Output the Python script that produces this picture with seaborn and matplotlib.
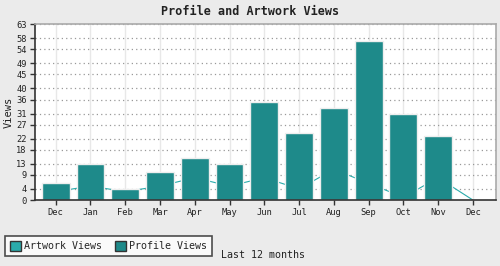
import matplotlib
matplotlib.use("Agg")
import matplotlib.pyplot as plt
from matplotlib.patches import Patch
import seaborn as sns
import pandas as pd

months = ["Dec", "Jan", "Feb", "Mar", "Apr", "May", "Jun", "Jul", "Aug", "Sep", "Oct", "Nov", "Dec"]
profile_views = [6, 13, 4, 10, 15, 13, 35, 24, 33, 57, 31, 23, 0]
artwork_views = [3, 5, 3, 5, 8, 5, 8, 4, 11, 6, 1, 8, 0]
y_ticks = [0, 4, 9, 13, 18, 22, 27, 31, 36, 40, 45, 49, 54, 58, 63]

sns.set_theme(style="white")
plt.rcParams["font.family"] = ["DejaVu Sans Mono"]

profile_color = "#1e8a8a"
artwork_color = "#2aabab"

df = pd.DataFrame({"idx": list(range(len(months))), "profile": profile_views, "artwork": artwork_views})

fig = plt.figure(figsize=(5.0, 2.66), dpi=100, facecolor="#ebebeb")
ax = fig.add_axes([0.069, 0.248, 0.922, 0.661])
ax.set_facecolor("white")

for i in range(len(months)):
    ax.axvline(i, color="#e8e8e8", lw=1, zorder=0)
for t in y_ticks[1:]:
    ax.axhline(t, color="#999999", lw=0.9, ls=(0, (1, 2.5)), zorder=0.5)

sns.lineplot(data=df, x="idx", y="artwork", ax=ax, color=artwork_color, lw=0.8, zorder=1, legend=False)
sns.barplot(data=df, x="idx", y="profile", ax=ax, color=profile_color, width=0.8,
            edgecolor="#eeeeee", linewidth=1, saturation=1, zorder=2)

ax.set_xlim(-0.61, 12.65)
ax.set_ylim(0, 63)
ax.set_yticks(y_ticks)
ax.set_yticklabels([str(t) for t in y_ticks], fontsize=6.3, color="#222222")
ax.set_xticks(range(len(months)))
ax.set_xticklabels(months, fontsize=6.3, color="#222222")
ax.tick_params(axis="both", direction="out", length=3.5, width=1, color="#333333", pad=2,
               bottom=True, left=True)
ax.set_xlabel("")
ax.set_ylabel("Views", fontsize=7.5, color="#222222", labelpad=2)

for s in ["left", "bottom"]:
    ax.spines[s].set_color("#333333")
    ax.spines[s].set_linewidth(1.2)
for s in ["top", "right"]:
    ax.spines[s].set_color("#aaaaaa")
    ax.spines[s].set_linewidth(1.2)

fig.text(0.5, 0.955, "Profile and Artwork Views", ha="center", va="center",
         fontsize=8.5, fontweight="bold", color="#222222")
fig.text(0.442, 0.041, "Last 12 months", ha="left", va="center", fontsize=7.2, color="#222222")

handles = [Patch(facecolor=artwork_color, edgecolor="#333333", lw=1, label="Artwork Views"),
           Patch(facecolor=profile_color, edgecolor="#333333", lw=1, label="Profile Views")]
leg = fig.legend(handles=handles, loc="lower left", bbox_to_anchor=(0.01, 0.037), ncol=2,
                 fontsize=7.2, frameon=True, fancybox=False, handlelength=1.1, handleheight=1.1,
                 handletextpad=0.3, columnspacing=1.3, borderpad=0.5, borderaxespad=0)
leg.get_frame().set_edgecolor("#222222")
leg.get_frame().set_linewidth(1.2)
leg.get_frame().set_facecolor("white")

fig.savefig("out.png", dpi=100, facecolor=fig.get_facecolor())
